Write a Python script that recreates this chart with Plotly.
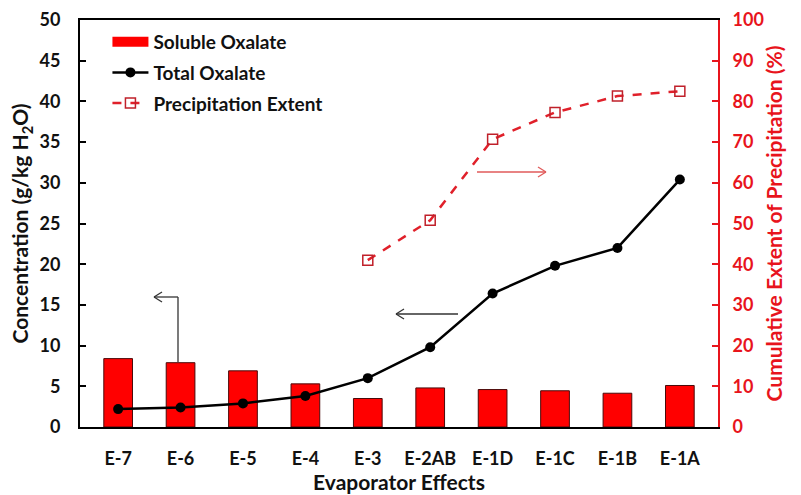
import plotly.graph_objects as go

# ---- data ----
categories = ["E-7", "E-6", "E-5", "E-4", "E-3", "E-2AB", "E-1D", "E-1C", "E-1B", "E-1A"]
soluble_oxalate = [8.4, 7.9, 6.9, 5.3, 3.5, 4.8, 4.6, 4.45, 4.15, 5.1]
total_oxalate = [2.2, 2.4, 2.9, 3.8, 6.0, 9.8, 16.4, 19.8, 22.0, 30.4]
precip_categories = ["E-3", "E-2AB", "E-1D", "E-1C", "E-1B", "E-1A"]
precip_extent = [41.0, 50.8, 70.7, 77.3, 81.3, 82.5]
left_ticks = [0, 5, 10, 15, 20, 25, 30, 35, 40, 45, 50]
right_ticks = [0, 10, 20, 30, 40, 50, 60, 70, 80, 90, 100]

W, H = 801, 495
L, R, T, B = 80, 718, 20, 427
FONT = "Lato"
RED = "#ff0000"
AXRED = "#e8141c"
INK = "#111111"

fig = go.Figure()
fig.add_trace(go.Bar(
    x=categories, y=soluble_oxalate, name="Soluble Oxalate",
    marker=dict(color=RED, line=dict(color="#4a0a0a", width=1)),
    width=0.46, showlegend=False))
# legend-only swatch (wide rectangle like the reference's bar key)
fig.add_trace(go.Scatter(
    x=[None], y=[None], name="Soluble Oxalate", mode="lines",
    line=dict(color=RED, width=11), legendgroup="a"))
fig.add_trace(go.Scatter(
    x=categories, y=total_oxalate, name="Total Oxalate", mode="lines+markers",
    line=dict(color="black", width=2.5),
    marker=dict(color="black", size=10, symbol="circle"), legendgroup="b"))
fig.add_trace(go.Scatter(
    x=precip_categories, y=precip_extent, name="Precipitation Extent",
    mode="lines+markers", yaxis="y2",
    line=dict(color="#e0202a", width=2.5, dash="dash"),
    marker=dict(symbol="square-open", size=10, color="#c0202a",
                line=dict(width=1.5, color="#c0202a")), legendgroup="c"))


def px(x):
    return (x - L) / (R - L)


def py(y):
    return (B - y) / (B - T)


shapes = []


def seg(x0, y0, x1, y1, color="#333333", width=1.3):
    shapes.append(dict(type="line", xref="paper", yref="paper",
                       x0=px(x0), y0=py(y0), x1=px(x1), y1=py(y1),
                       line=dict(color=color, width=width)))


def arrow(x0, y0, x1, y1, color="#333333", width=1.3):
    seg(x0, y0, x1, y1, color, width)
    d = 1 if x1 > x0 else -1
    seg(x1, y1, x1 - d * 8, y1 - 5, color, width)
    seg(x1, y1, x1 - d * 8, y1 + 5, color, width)


seg(178, 362, 178, 297)
arrow(178, 297, 154, 297)
arrow(458, 314, 396, 314)
arrow(477, 172, 546, 172, color="#e05a5a")

tickfont = dict(family=FONT, size=18, color=INK, weight="bold")
titlefont = dict(family=FONT, size=21, color=INK, weight="bold")

fig.update_layout(
    width=W, height=H,
    margin=dict(l=L, r=W - R, t=T, b=H - B),
    paper_bgcolor="white", plot_bgcolor="white",
    font=dict(family=FONT, size=16, color=INK),
    shapes=shapes,
    showlegend=True,
    legend=dict(x=0.043, y=0.993, xanchor="left", yanchor="top",
                bgcolor="rgba(0,0,0,0)", tracegroupgap=3,
                font=dict(family=FONT, size=19, color=INK, weight="bold"),
                itemwidth=36),
    xaxis=dict(
        showline=True, linecolor="black", linewidth=2, mirror=True,
        ticks="", showgrid=False, tickfont=tickfont, ticklabelstandoff=14,
        automargin=False,
        title=dict(text="Evaporator Effects", standoff=7, font=titlefont),
    ),
    yaxis=dict(
        range=[0, 50], tickvals=left_ticks, showline=True, linecolor="black",
        linewidth=2, ticks="inside", ticklen=6, tickcolor="black", tickwidth=1.5,
        showgrid=False, zeroline=False, tickfont=tickfont, ticklabelstandoff=14,
        automargin=False,
        title=dict(text="Concentration (g/kg H<sub>2</sub>O)", standoff=5,
                   font=titlefont),
    ),
    yaxis2=dict(
        range=[0, 100], tickvals=right_ticks, overlaying="y", side="right",
        showline=True, linecolor=AXRED, linewidth=2, ticks="inside", ticklen=6,
        tickcolor=AXRED, tickwidth=1.5, showgrid=False, zeroline=False,
        tickfont=dict(family=FONT, size=18, color=AXRED, weight="bold"),
        ticklabelstandoff=9, automargin=False,
        title=dict(text="Cumulative Extent of Precipitation (%)", standoff=4,
                   font=dict(family=FONT, size=21, color=AXRED, weight="bold")),
    ),
)

fig.write_html("out.html")
